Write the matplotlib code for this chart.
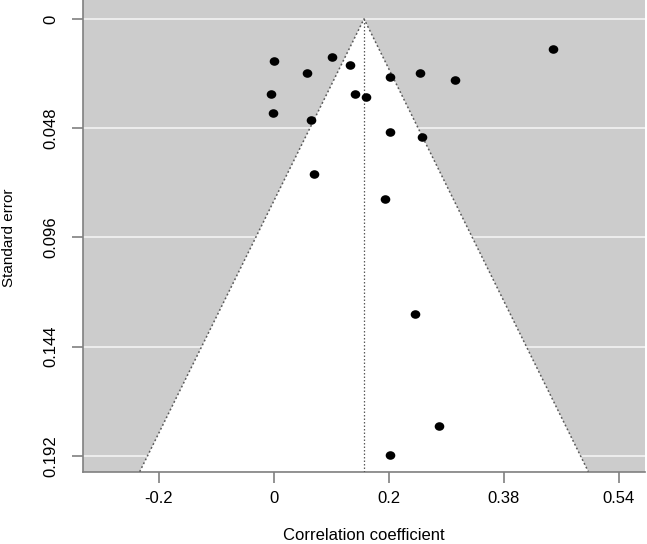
import numpy as np
import matplotlib

matplotlib.use("Agg")
import matplotlib.pyplot as plt
from matplotlib.path import Path

plt.rcParams["font.family"] = ["Liberation Sans", "DejaVu Sans"]

# Study estimates on Fisher's z scale and their standard errors.
z_values = [0.000, 0.101, 0.132, 0.058, 0.203, 0.255, 0.315, -0.004, 0.141, 0.161,
            -0.001, 0.065, 0.203, 0.258, 0.485, 0.070, 0.193, 0.245, 0.288, 0.203]
se_values = [0.0186, 0.0168, 0.0201, 0.0236, 0.0255, 0.0236, 0.0269, 0.0331, 0.0331, 0.0343,
             0.0413, 0.0445, 0.0495, 0.0519, 0.0133, 0.0683, 0.0790, 0.1295, 0.1788, 0.1915]

# Pooled estimate (z scale) and axis ticks.
pooled_z = 0.157
x_ticks = [-0.2, 0.0, 0.2, 0.4, 0.6]
x_tick_labels = ["-0.2", "0", "0.2", "0.38", "0.54"]
y_ticks = [0, 0.048, 0.096, 0.144, 0.192]
y_tick_labels = ["0", "0.048", "0.096", "0.144", "0.192"]

x_lim = (-0.3316, 0.6455)
y_lim = (0.199, -0.0083)

fig = plt.figure(figsize=(6.47, 5.44), dpi=100)
ax = fig.add_axes([83 / 647, 72.3 / 544, 562 / 647, 471.7 / 544])
ax.set_facecolor("#CCCCCC")

axis_grey = "#808080"
for side in ("top", "right"):
    ax.spines[side].set_visible(False)
for side in ("left", "bottom"):
    ax.spines[side].set_color(axis_grey)
    ax.spines[side].set_linewidth(1.2)

# white reference lines at the SE ticks, under the funnel
for y in y_ticks:
    ax.axhline(y, color="#F0F0F0", lw=1.3, zorder=1)

# pseudo-confidence funnel (95%)
se_bottom = y_lim[0]
half = 1.96 * se_bottom
funnel_x = [pooled_z - half, pooled_z, pooled_z + half]
funnel_y = [se_bottom, 0, se_bottom]
ax.fill(funnel_x, funnel_y, color="white", zorder=2, lw=0)
ax.plot(funnel_x, funnel_y, color="#5a5a5a", ls=(0, (1.2, 1.6)), lw=1.1, zorder=3)
ax.plot([pooled_z, pooled_z], [0, se_bottom], color="#5a5a5a", ls=(0, (1.2, 1.6)),
        lw=0.9, zorder=3)

# slightly wide dots like the R device output
circle = Path.unit_circle()
ellipse = Path(circle.vertices * np.array([1.12, 1.0]), circle.codes)
ax.scatter(z_values, se_values, marker=ellipse, s=48, color="black", lw=0, zorder=4)

ax.set_xlim(*x_lim)
ax.set_ylim(*y_lim)
ax.set_xticks(x_ticks)
ax.set_xticklabels(x_tick_labels)
ax.set_yticks(y_ticks)
ax.set_yticklabels(y_tick_labels, rotation=90, va="center")
ax.tick_params(direction="out", length=8, width=1.2, color=axis_grey, labelsize=12)
ax.tick_params(axis="x", pad=6)
ax.tick_params(axis="y", pad=10)

# axis titles placed where R puts them
fig.text(364 / 647, 1 - 535 / 544, "Correlation coefficient", fontsize=12,
         ha="center", va="center")
fig.text(9 / 647, 1 - 238 / 544, "Standard error", fontsize=11,
         ha="center", va="center", rotation=90)

fig.savefig("out.png", dpi=100)
